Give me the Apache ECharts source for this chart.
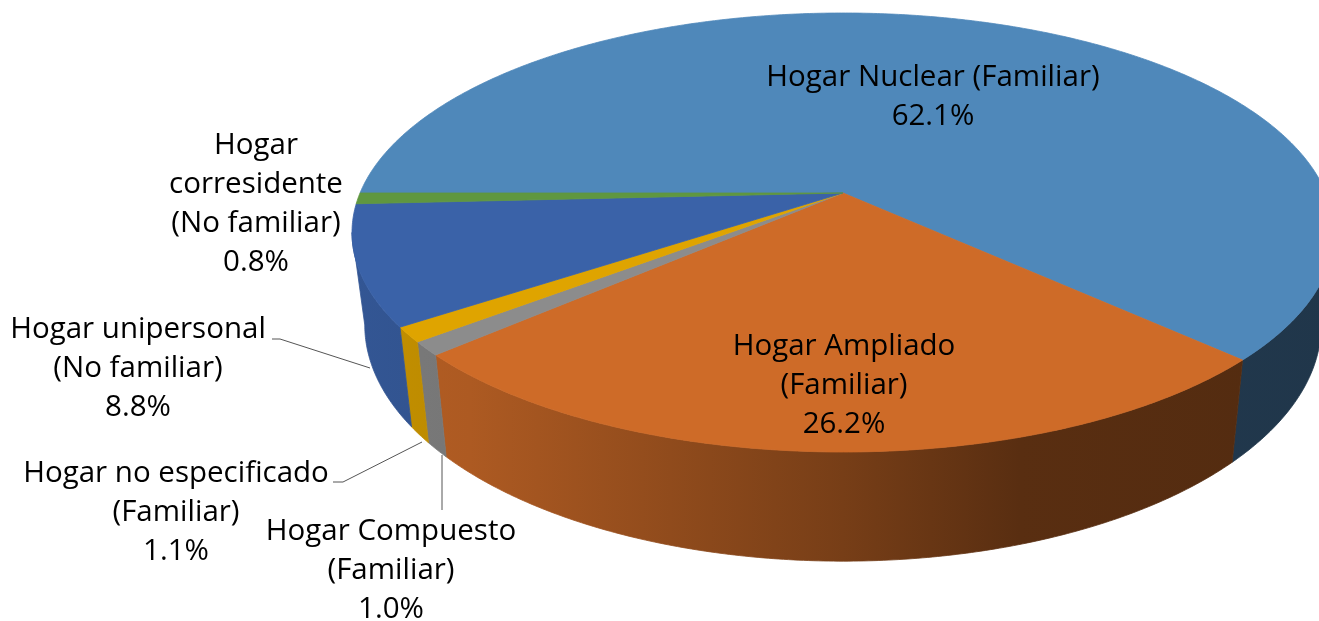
<!DOCTYPE html>
<html>
<head>
<meta charset="utf-8">
<script src="https://cdn.jsdelivr.net/npm/echarts@6/dist/echarts.min.js"></script>
<style>
  html, body { margin: 0; padding: 0; background: #ffffff; }
  #chart { width: 1319px; height: 621px; }
</style>
</head>
<body>
<div id="chart"></div>
<script>
// Household types and their share (%)
const categories = [
  'Hogar Nuclear (Familiar)',
  'Hogar Ampliado\n(Familiar)',
  'Hogar Compuesto\n(Familiar)',
  'Hogar no especificado\n(Familiar)',
  'Hogar unipersonal\n(No familiar)',
  'Hogar\ncorresidente\n(No familiar)'
];
const values = [62.1, 26.2, 1.0, 1.1, 8.8, 0.8];

// Slice colours (top faces)
const colors = ['#4F88BA', '#CE6B28', '#8C8C8C', '#DFA400', '#3A62A8', '#5F9740'];

// Tilted-disc geometry: ellipse of the top face, perspective shift of the hub,
// thickness and the slight narrowing of the bottom rim
const geo = { cx: 843, cy: 232.5, rx: 491, ry: 219.5, tilt: -0.18, depth: 91, shrink: 0.974, startAngle: 270 };
const gamma = 1 / Math.sqrt(1 - geo.tilt * geo.tilt);

// Label placement and leader lines (pixel layout)
const labelLayout = [
  { x: 933, y: 97 },
  { x: 844, y: 386 },
  { x: 391, y: 571, leader: [[442, 510], [442, 455]] },
  { x: 176, y: 513, leader: [[333, 482], [343, 482], [422, 442]] },
  { x: 138, y: 369, leader: [[272, 339], [280, 339], [370, 368]] },
  { x: 256, y: 204 }
];

// Angle (degrees, clockwise from 12 o'clock) on the disc -> screen point with perspective
function project(deg) {
  const t = deg * Math.PI / 180;
  const u = Math.sin(t), v = -Math.cos(t);
  const k = 1 + geo.tilt * v;
  return {
    x: geo.cx + geo.rx * u / (gamma * k),
    y: geo.cy + geo.ry * (v + geo.tilt) / k,
    s: 1 / (gamma * k)
  };
}
function lower(p) {
  return [geo.cx + (p.x - geo.cx) * geo.shrink, p.y + geo.depth * p.s];
}
function hub() {
  return [geo.cx, geo.cy + geo.ry * geo.tilt];
}
function arc(a0, a1) {
  const n = Math.max(2, Math.ceil(Math.abs(a1 - a0) / 0.5));
  const pts = [];
  for (let i = 0; i <= n; i++) pts.push(project(a0 + (a1 - a0) * i / n));
  return pts;
}

// Cumulative slice spans
const total = values.reduce((a, b) => a + b, 0);
const spans = [];
(function () {
  let acc = geo.startAngle;
  values.forEach(v => {
    const a = v / total * 360;
    spans.push([acc, acc + a]);
    acc += a;
  });
})();

// Visible part of the outer wall (front half, between the silhouette points)
const wallFrom = Math.acos(geo.tilt) * 180 / Math.PI;
const wallTo = 360 - wallFrom;

function shade(hex, f) {
  const n = parseInt(hex.slice(1), 16);
  const r = Math.round(((n >> 16) & 255) * f);
  const g = Math.round(((n >> 8) & 255) * f);
  const b = Math.round((n & 255) * f);
  return 'rgb(' + r + ',' + g + ',' + b + ')';
}
function wallFill(c) {
  return {
    type: 'linear', x: geo.cx - geo.rx, y: 0, x2: geo.cx + geo.rx, y2: 0, global: true,
    colorStops: [
      { offset: 0, color: shade(c, 0.88) },
      { offset: 0.12, color: shade(c, 0.84) },
      { offset: 0.5, color: shade(c, 0.58) },
      { offset: 0.68, color: shade(c, 0.43) },
      { offset: 1, color: shade(c, 0.4) }
    ]
  };
}

function renderWall(params, api) {
  const i = params.dataIndex;
  const [a0, a1] = spans[i];
  const children = [];
  for (let k = 0; k < 2; k++) {
    const lo = Math.max(a0, wallFrom + 360 * k);
    const hi = Math.min(a1, wallTo + 360 * k);
    if (hi <= lo) continue;
    const top = arc(lo, hi);
    const pts = top.map(p => [p.x, p.y]);
    for (let j = top.length - 1; j >= 0; j--) pts.push(lower(top[j]));
    const fill = wallFill(colors[i]);
    children.push({
      type: 'polygon',
      shape: { points: pts },
      style: { fill: fill, stroke: fill, lineWidth: 0.8 }
    });
  }
  return { type: 'group', children: children };
}

function renderTop(params, api) {
  const i = params.dataIndex;
  const [a0, a1] = spans[i];
  const pts = [hub()].concat(arc(a0, a1).map(p => [p.x, p.y]));
  return {
    type: 'polygon',
    shape: { points: pts },
    style: { fill: colors[i], stroke: colors[i], lineWidth: 0.8 }
  };
}

function renderLabel(params, api) {
  const i = params.dataIndex;
  const lay = labelLayout[i];
  const children = [];
  if (lay.leader) {
    children.push({
      type: 'polyline',
      shape: { points: lay.leader },
      style: { stroke: '#555555', lineWidth: 1, fill: null }
    });
  }
  children.push({
    type: 'text',
    x: lay.x, y: lay.y,
    style: {
      text: categories[i] + '\n' + api.value(0).toFixed(1) + '%',
      fill: '#000000',
      fontFamily: 'Open Sans',
      fontSize: 29.5,
      lineHeight: 39,
      align: 'center',
      verticalAlign: 'middle'
    }
  });
  return { type: 'group', children: children };
}

const chart = echarts.init(document.getElementById('chart'), null, { renderer: 'canvas' });
chart.setOption({
  backgroundColor: '#ffffff',
  animation: false,
  series: [
    { type: 'custom', coordinateSystem: 'none', data: values, z: 1, silent: true, renderItem: renderWall },
    { type: 'custom', coordinateSystem: 'none', data: values, z: 2, renderItem: renderTop },
    { type: 'custom', coordinateSystem: 'none', data: values, z: 3, silent: true, renderItem: renderLabel }
  ]
});
</script>
</body>
</html>
